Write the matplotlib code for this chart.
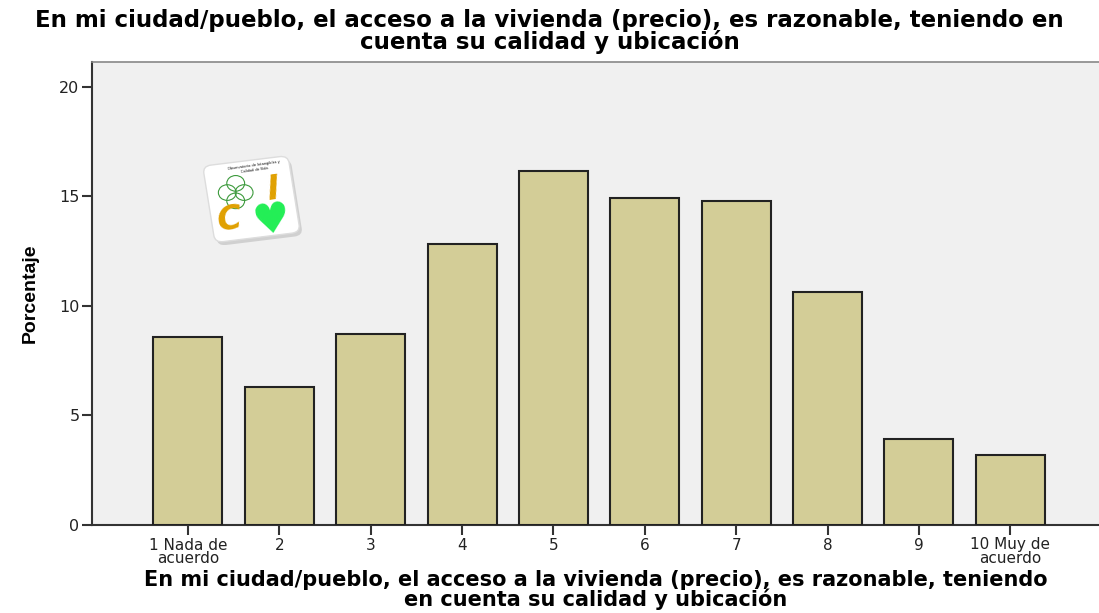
import matplotlib.pyplot as plt
from matplotlib.patches import FancyBboxPatch, Circle
import matplotlib.transforms as mtransforms

plt.rcParams['font.family'] = ['DejaVu Sans']

# Data
categories = ['1 Nada de\nacuerdo', '2', '3', '4', '5', '6', '7', '8', '9', '10 Muy de\nacuerdo']
percentages = [8.6, 6.3, 8.7, 12.85, 16.15, 14.95, 14.8, 10.65, 3.92, 3.2]
y_ticks = [0, 5, 10, 15, 20]
title = 'En mi ciudad/pueblo, el acceso a la vivienda (precio), es razonable, teniendo en\ncuenta su calidad y ubicación'
x_label = 'En mi ciudad/pueblo, el acceso a la vivienda (precio), es razonable, teniendo\nen cuenta su calidad y ubicación'
y_label = 'Porcentaje'

fig = plt.figure(figsize=(10.99, 6.13), dpi=100)
ax = fig.add_axes([92 / 1099, 1 - 525 / 613, 1 - 92 / 1099, (525 - 62) / 613])
ax.set_facecolor('#F0F0F0')

x = list(range(len(categories)))
ax.bar(x, percentages, width=0.755, color='#D3CD97', edgecolor='#222222', linewidth=1.5, zorder=3)

ax.set_xlim(-1.05, 9.97)
ax.set_ylim(0, 21.14)
ax.set_yticks(y_ticks)
ax.set_xticks(x)
ax.set_xticklabels(categories, fontsize=11, linespacing=0.88)
ax.tick_params(axis='both', direction='out', length=7, width=1.5, color='#333333', labelcolor='#222222')
ax.tick_params(axis='x', pad=2)
ax.tick_params(axis='y', labelsize=11.5, pad=2)

for side in ['left', 'bottom']:
    ax.spines[side].set_linewidth(1.5)
    ax.spines[side].set_color('#333333')
ax.spines['top'].set_color('#888888')
ax.spines['top'].set_linewidth(1.2)
ax.spines['right'].set_visible(False)

ax.set_ylabel(y_label, fontsize=14, fontweight='bold', family='Liberation Sans', labelpad=15)
ax.set_xlabel(x_label, fontsize=15, fontweight='bold', linespacing=0.88, labelpad=3)
fig.text(0.5, 0.985, title, ha='center', va='top', fontsize=16.5, fontweight='bold', linespacing=0.88)

# Logo card
lax = fig.add_axes([200 / 1099, 1 - 245 / 613, 105 / 1099, 92 / 613])
lax.set_xlim(0, 1)
lax.set_ylim(0, 1)
lax.axis('off')
rot = mtransforms.Affine2D().rotate_deg_around(0.5, 0.5, 8) + lax.transData
shadow = FancyBboxPatch((0.12, 0.06), 0.78, 0.8, boxstyle='round,pad=0.02,rounding_size=0.08',
                        facecolor='#BBBBBB', edgecolor='none', transform=rot, alpha=0.6)
card = FancyBboxPatch((0.1, 0.1), 0.78, 0.8, boxstyle='round,pad=0.02,rounding_size=0.08',
                      facecolor='white', edgecolor='#DDDDDD', transform=rot)
lax.add_patch(shadow)
lax.add_patch(card)
lax.text(0.52, 0.84, 'Observatorio de Intangibles y\nCalidad de Vida', fontsize=2.5, ha='center', va='center',
         rotation=8)
for cx, cy in [(0.34, 0.67), (0.26, 0.57), (0.42, 0.57), (0.34, 0.48)]:
    lax.add_patch(Circle((cx, cy), 0.085, facecolor='none', edgecolor='#3C9A3C', linewidth=0.8))
lax.text(0.7, 0.6, 'I', fontsize=24, fontweight='bold', fontstyle='italic', color='#E0A000',
         ha='center', va='center', rotation=8)
lax.text(0.28, 0.27, 'C', fontsize=24, fontweight='bold', fontstyle='italic', color='#E0A000',
         ha='center', va='center', rotation=8)
lax.text(0.68, 0.27, '\u2665', fontsize=30, color='#22EE55', ha='center', va='center', rotation=8)

fig.savefig('out.png', dpi=100)
